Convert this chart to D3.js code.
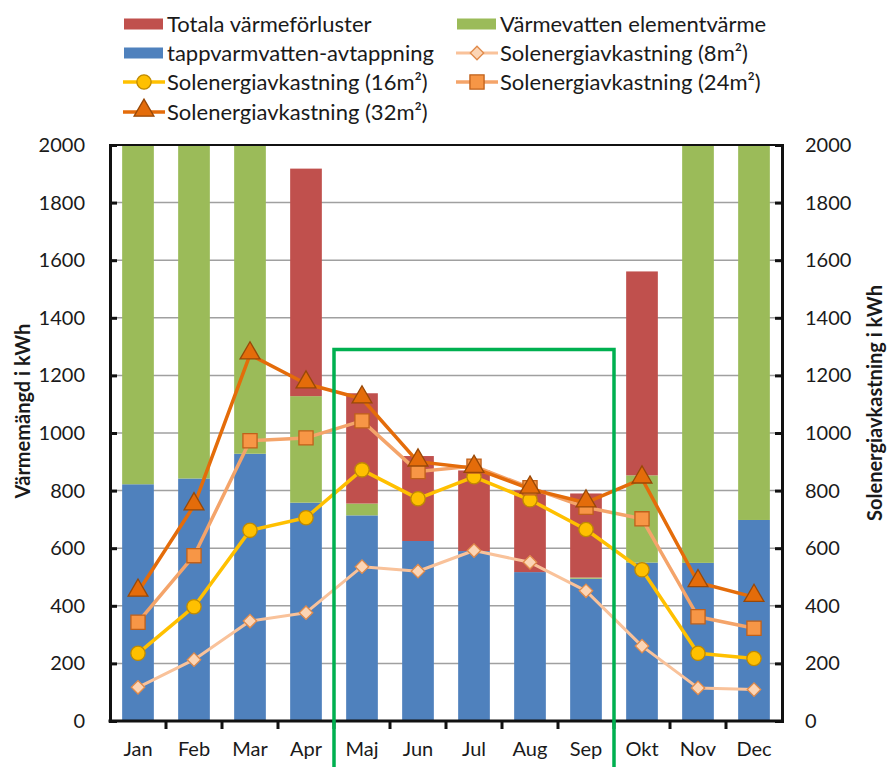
<!DOCTYPE html>
<html>
<head>
<meta charset="utf-8">
<script src="https://cdn.jsdelivr.net/npm/d3@7"></script>
<style>
  html, body { margin: 0; padding: 0; background: #fff; }
  svg { display: block; font-family: Lato, "Open Sans", sans-serif; }
</style>
</head>
<body>
<svg id="chart" width="888" height="767"></svg>
<script>
// Månader
const months = ["Jan", "Feb", "Mar", "Apr", "Maj", "Jun", "Jul", "Aug", "Sep", "Okt", "Nov", "Dec"];

// Staplar (kWh), staplade nerifrån och upp
const tappvarmvatten = [822, 842, 928, 758, 714, 625, 590, 517, 494, 550, 549, 698];
const elementvarme   = [1180, 1160, 1075, 370, 41, 0, 0, 0, 4, 303, 1455, 1305];
const forluster      = [0, 0, 0, 790, 383, 295, 280, 284, 292, 708, 0, 0];

// Solenergiavkastning (kWh) per solfångararea
const sol8  = [117, 213, 347, 376, 536, 520, 592, 551, 452, 260, 115, 109];
const sol16 = [235, 397, 662, 706, 872, 772, 848, 768, 665, 525, 235, 217];
const sol24 = [343, 574, 973, 983, 1042, 866, 885, 810, 742, 702, 362, 322];
const sol32 = [448, 748, 1272, 1171, 1119, 900, 878, 806, 758, 841, 481, 430];

// Axelns skalsteg
const yTicks = [0, 200, 400, 600, 800, 1000, 1200, 1400, 1600, 1800, 2000];

// Markerad sommarperiod (Maj–Sep) upp till denna nivå
const periodStart = "Maj", periodEnd = "Sep", periodTop = 1290;

const svg = d3.select("#chart");
const plotLeft = 110, plotRight = 782, plotTop = 145, plotBottom = 721;

const x = d3.scaleBand().domain(months).range([plotLeft, plotRight]).paddingInner(0.434).paddingOuter(0.217);
const y = d3.scaleLinear().domain([0, 2000]).range([plotBottom, plotTop]);
const y2 = d3.scaleLinear().domain([0, 2000]).range([plotBottom, plotTop]);
const step = x.step();
const gap = (step - x.bandwidth()) / 2;

// Stödlinjer
svg.append("g").selectAll("line").data(yTicks.filter(d => d > 0 && d < 2000)).join("line")
  .attr("x1", plotLeft).attr("x2", plotRight)
  .attr("y1", d => y(d)).attr("y2", d => y(d))
  .attr("stroke", "#a0a0a0").attr("stroke-width", 1.5);

// Staplar
svg.append("clipPath").attr("id", "plotclip").append("rect")
  .attr("x", plotLeft).attr("y", plotTop).attr("width", plotRight - plotLeft).attr("height", plotBottom - plotTop);

const rows = months.map((m, i) => ({ m, tapp: tappvarmvatten[i], elem: elementvarme[i], forl: forluster[i] }));
const stack = d3.stack().keys(["tapp", "elem", "forl"])(rows);
const barColors = { tapp: "#4f81bd", elem: "#9bbb59", forl: "#c0504d" };

const barG = svg.append("g").attr("clip-path", "url(#plotclip)");
stack.forEach(layer => {
  barG.append("g").attr("fill", barColors[layer.key])
    .selectAll("rect").data(layer).join("rect")
    .attr("x", d => x(d.data.m))
    .attr("width", x.bandwidth())
    .attr("y", d => y(d[1]))
    .attr("height", d => Math.max(0, y(d[0]) - y(d[1])));
});

// Linjeserier
const series = [
  { name: "Solenergiavkastning (8m²)",  values: sol8,  line: "#f9c29a", fill: "#fcd5b5", stroke: "#e08a4a", shape: "diamond", width: 3 },
  { name: "Solenergiavkastning (16m²)", values: sol16, line: "#ffc000", fill: "#ffc000", stroke: "#c08a00", shape: "circle", width: 3.5 },
  { name: "Solenergiavkastning (24m²)", values: sol24, line: "#f4a46a", fill: "#f79646", stroke: "#c0601a", shape: "square", width: 3.5 },
  { name: "Solenergiavkastning (32m²)", values: sol32, line: "#e46c0a", fill: "#e46c0a", stroke: "#984807", shape: "triangle", width: 3.5 }
];

function symbolPath(shape) {
  if (shape === "circle") return d3.symbol(d3.symbolCircle, 160)();
  if (shape === "square") return d3.symbol(d3.symbolSquare, 200)();
  if (shape === "triangle") return d3.symbol(d3.symbolTriangle, 170)();
  return d3.symbol(d3.symbolSquare, 90)();
}
function symbolTransform(shape, cx, cy) {
  const dy = shape === "triangle" ? -1.5 : 0;
  return `translate(${cx},${cy + dy})` + (shape === "diamond" ? " rotate(45)" : "");
}

const line = d3.line().x((d, i) => x(months[i]) + x.bandwidth() / 2).y(d => y2(d));
series.forEach(s => {
  const g = svg.append("g");
  g.append("path").datum(s.values).attr("d", line)
    .attr("fill", "none").attr("stroke", s.line).attr("stroke-width", s.width).attr("stroke-linejoin", "round");
  g.selectAll("path.mk").data(s.values).join("path").attr("class", "mk")
    .attr("d", symbolPath(s.shape))
    .attr("transform", (d, i) => symbolTransform(s.shape, x(months[i]) + x.bandwidth() / 2, y2(d)))
    .attr("fill", s.fill).attr("stroke", s.stroke).attr("stroke-width", 1.3);
});

// Ram och axlar
svg.append("line").attr("x1", plotLeft).attr("x2", plotRight).attr("y1", plotTop).attr("y2", plotTop)
  .attr("stroke", "#111").attr("stroke-width", 2);

const yAxisL = svg.append("g").attr("transform", `translate(${plotLeft},0)`)
  .call(d3.axisRight(y).tickValues(yTicks).tickSize(7).tickFormat(""));
const yAxisR = svg.append("g").attr("transform", `translate(${plotRight},0)`)
  .call(d3.axisLeft(y2).tickValues(yTicks).tickSize(7).tickFormat(""));
[yAxisL, yAxisR].forEach(a => {
  a.select(".domain").attr("stroke", "#111").attr("stroke-width", 3);
  a.selectAll(".tick line").attr("stroke", "#111").attr("stroke-width", 3);
});

// x-axel med streck mellan månaderna
const xAxis = svg.append("g").attr("transform", `translate(0,${plotBottom})`)
  .call(d3.axisBottom(x).tickSize(0).tickPadding(21));
xAxis.select(".domain").attr("stroke", "#111").attr("stroke-width", 3).attr("d", `M${plotLeft - 1.5},0H${plotRight + 1.5}`);
xAxis.selectAll(".tick text").attr("font-size", 20).attr("fill", "#1a1a1a").attr("font-family", "Lato, sans-serif");
xAxis.selectAll("line.sep").data(months.slice(1)).join("line").attr("class", "sep")
  .attr("x1", d => x(d) - gap).attr("x2", d => x(d) - gap)
  .attr("y1", 0).attr("y2", 8).attr("stroke", "#111").attr("stroke-width", 3);

// Skaletiketter
svg.append("g").selectAll("text").data(yTicks).join("text")
  .attr("x", 85).attr("y", d => y(d)).attr("dy", "0.35em").attr("text-anchor", "end")
  .attr("font-size", 20).attr("fill", "#1a1a1a").text(d => d);
svg.append("g").selectAll("text").data(yTicks).join("text")
  .attr("x", 805).attr("y", d => y2(d)).attr("dy", "0.35em").attr("text-anchor", "start")
  .attr("font-size", 20).attr("fill", "#1a1a1a").text(d => d);

// Axeltitlar
svg.append("text").attr("transform", "translate(23,411) rotate(-90)")
  .attr("text-anchor", "middle").attr("dy", "0.35em").attr("font-size", 20).attr("font-weight", "bold")
  .attr("fill", "#1a1a1a").text("Värmemängd i kWh");
svg.append("text").attr("transform", "translate(875,403) rotate(-90)")
  .attr("text-anchor", "middle").attr("dy", "0.35em").attr("font-size", 20).attr("font-weight", "bold")
  .attr("fill", "#1a1a1a").text("Solenergiavkastning i kWh");

// Markerad period
const px0 = x(periodStart) - gap;
const px1 = x(periodEnd) + x.bandwidth() + gap;
svg.append("path")
  .attr("d", `M${px0},767V${y(periodTop)}H${px1}V767`)
  .attr("fill", "none").attr("stroke", "#00b050").attr("stroke-width", 3.5);

// Förklaring
const legendItems = [
  { label: "Totala värmeförluster", type: "bar", color: barColors.forl, col: 0, row: 0 },
  { label: "Värmevatten elementvärme", type: "bar", color: barColors.elem, col: 1, row: 0 },
  { label: "tappvarmvatten-avtappning", type: "bar", color: barColors.tapp, col: 0, row: 1 },
  { label: series[0].name, type: "line", s: series[0], col: 1, row: 1 },
  { label: series[1].name, type: "line", s: series[1], col: 0, row: 2 },
  { label: series[2].name, type: "line", s: series[2], col: 1, row: 2 },
  { label: series[3].name, type: "line", s: series[3], col: 0, row: 3 }
];
const colX = [123, 456], rowY = [24, 53, 82, 112];
const lg = svg.append("g");
legendItems.forEach(it => {
  const gx = colX[it.col], gy = rowY[it.row];
  const g = lg.append("g").attr("transform", `translate(${gx},${gy})`);
  if (it.type === "bar") {
    g.append("rect").attr("x", 1).attr("y", -5.5).attr("width", 39).attr("height", 11).attr("fill", it.color);
  } else {
    g.append("line").attr("x1", 0).attr("x2", 42).attr("y1", 0).attr("y2", 0)
      .attr("stroke", it.s.line).attr("stroke-width", it.s.width);
    g.append("path").attr("d", symbolPath(it.s.shape))
      .attr("transform", symbolTransform(it.s.shape, 21, 0))
      .attr("fill", it.s.fill).attr("stroke", it.s.stroke).attr("stroke-width", 1.3);
  }
  g.append("text").attr("x", 44).attr("y", 0).attr("dy", "0.35em")
    .attr("font-size", 22).attr("fill", "#1a1a1a").text(it.label);
});
</script>
</body>
</html>
